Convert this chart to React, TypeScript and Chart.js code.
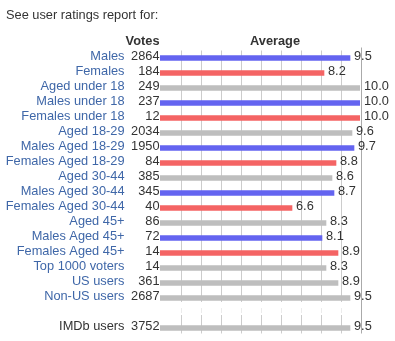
import React, { useEffect, useRef } from "react";
import { Chart, registerables } from "chart.js";

Chart.register(...registerables);

const categories = [
  "Males", "Females", "Aged under 18", "Males under 18", "Females under 18",
  "Aged 18-29", "Males Aged 18-29", "Females Aged 18-29", "Aged 30-44",
  "Males Aged 30-44", "Females Aged 30-44", "Aged 45+", "Males Aged 45+",
  "Females Aged 45+", "Top 1000 voters", "US users", "Non-US users", "", "IMDb users",
];
const votes = [2864, 184, 249, 237, 12, 2034, 1950, 84, 385, 345, 40, 86, 72, 14, 14, 361, 2687, null, 3752];
const averages = [9.5, 8.2, 10.0, 10.0, 10.0, 9.6, 9.7, 8.8, 8.6, 8.7, 6.6, 8.3, 8.1, 8.9, 8.3, 8.9, 9.5, null, 9.5];
const groups = ["m", "f", "a", "m", "f", "a", "m", "f", "a", "m", "f", "a", "m", "f", "a", "a", "a", "", "a"];
const gridValues = [1, 2, 3, 4, 5, 6, 7, 8, 9, 10];
const headerText = "See user ratings report for:";
const votesHeader = "Votes";
const averageHeader = "Average";

const FONT = "'Liberation Sans', Arial, sans-serif";
const groupColor: Record<string, string> = { m: "#6464f0", f: "#f46464", a: "#bebebe", "": "#bebebe" };

export default function App() {
  const ref = useRef<HTMLCanvasElement>(null);
  useEffect(() => {
    const canvas = ref.current!;
    const gridPlugin = {
      id: "grid",
      beforeDatasetsDraw(chart: any) {
        const ctx = chart.ctx;
        const xs = chart.scales.x;
        const ys = chart.scales.y;
        const { top, bottom } = chart.chartArea;
        const gapIdx = categories.indexOf("");
        const gy = ys.getPixelForValue(gapIdx);
        const gapStart = Math.round(gy - 11);
        const gapEnd = Math.round(gy + 2);
        ctx.save();
        ctx.lineWidth = 1;
        for (const v of gridValues) {
          const x = Math.round(xs.getPixelForValue(v)) + 1.5;
          ctx.strokeStyle = v === 10 ? "#aaaaaa" : "#cccccc";
          ctx.beginPath();
          if (v === 10) {
            ctx.moveTo(x, top - 3);
            ctx.lineTo(x, bottom - 2);
          } else {
            ctx.moveTo(x, top);
            ctx.lineTo(x, gapStart);
            ctx.moveTo(x, gapEnd);
            ctx.lineTo(x, bottom - 2);
          }
          ctx.stroke();
          if (v !== 10) {
            ctx.strokeStyle = "#ececec";
            ctx.beginPath();
            ctx.moveTo(x, gapStart + 6);
            ctx.lineTo(x, gapEnd - 2);
            ctx.stroke();
          }
        }
        ctx.restore();
      },
    };
    const textPlugin = {
      id: "texts",
      afterDatasetsDraw(chart: any) {
        const ctx = chart.ctx;
        const ys = chart.scales.y;
        const xs = chart.scales.x;
        ctx.save();
        ctx.textBaseline = "middle";
        ctx.fillStyle = "#333";
        ctx.font = `12.8px ${FONT}`;
        ctx.textAlign = "left";
        ctx.fillText(headerText, 6, 15);
        ctx.font = `bold 12.8px ${FONT}`;
        ctx.textAlign = "right";
        ctx.fillText(votesHeader, 159.5, 41.5);
        ctx.textAlign = "left";
        ctx.fillText(averageHeader, 250, 41.5);
        ctx.font = `12.8px ${FONT}`;
        for (let i = 0; i < categories.length; i++) {
          const y = ys.getPixelForValue(i) - 2;
          if (votes[i] != null) {
            ctx.textAlign = "right";
            ctx.fillStyle = "#333";
            ctx.fillText(String(votes[i]), chart.chartArea.left - 0.5, y);
          }
          if (averages[i] != null) {
            ctx.textAlign = "left";
            ctx.fillStyle = "#333";
            ctx.fillText((averages[i] as number).toFixed(1), xs.getPixelForValue(averages[i]) + 4, y);
          }
        }
        ctx.restore();
      },
    };
    const chart = new Chart(canvas, {
      type: "bar",
      data: {
        labels: categories,
        datasets: [
          {
            data: averages,
            backgroundColor: groups.map((g) => groupColor[g]),
            barThickness: 5,
            borderWidth: 0,
          },
        ],
      },
      plugins: [gridPlugin, textPlugin],
      options: {
        indexAxis: "y",
        animation: false,
        responsive: false,
        maintainAspectRatio: false,
        events: [],
        layout: { padding: { top: 50.5, right: 35, bottom: 5.5, left: 0 } },
        plugins: { legend: { display: false }, tooltip: { enabled: false }, title: { display: false } },
        scales: {
          x: {
            display: false,
            min: 0,
            max: 10,
          },
          y: {
            grid: { display: false, drawTicks: false },
            border: { display: false },
            ticks: {
              padding: 35.5,
              labelOffset: -2,
              autoSkip: false,
              font: { size: 12.8, family: FONT },
              color: (c: any) => (categories[c.index] === "IMDb users" ? "#333333" : "#3f67a8"),
            },
            afterFit: (s: any) => {
              s.width = 160;
              s.paddingTop = 0;
              s.paddingBottom = 0;
            },
          },
        },
      },
    });
    return () => chart.destroy();
  }, []);
  return (
    <div style={{ position: "absolute", left: 0, top: 0, width: 395, height: 341, background: "#fff" }}>
      <canvas ref={ref} width={395} height={341} style={{ width: 395, height: 341, display: "block" }} />
    </div>
  );
}
